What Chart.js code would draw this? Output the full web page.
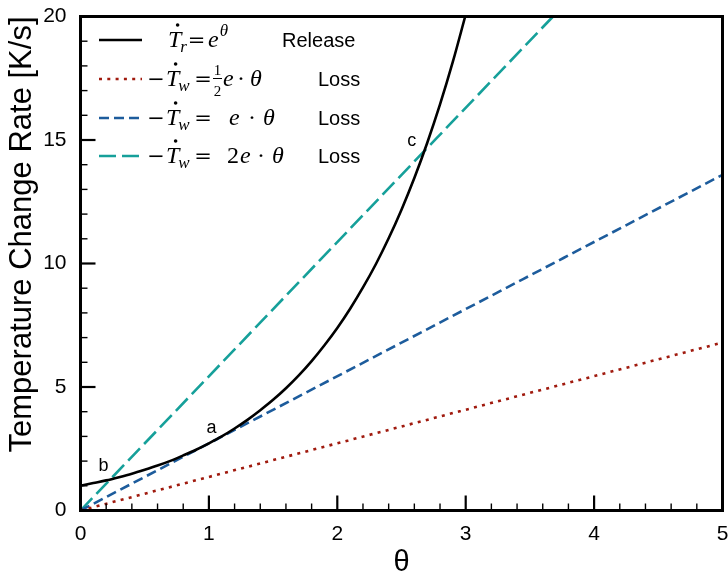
<!DOCTYPE html>
<html>
<head>
<meta charset="utf-8">
<script src="https://cdn.jsdelivr.net/npm/chart.js@4.4.1/dist/chart.umd.min.js"></script>
<style>
  html, body { margin: 0; padding: 0; background: #fff; }
  #wrap { width: 728px; height: 576px; }
</style>
</head>
<body>
<div id="wrap"><canvas id="rateChart"></canvas></div>
<script>
// ── data ────────────────────────────────────────────────────────────
// heat release curve, sampled along theta
const releaseTheta = [0, 0.1, 0.2, 0.3, 0.4, 0.5, 0.6, 0.7, 0.8, 0.9, 1.0,
                      1.1, 1.2, 1.3, 1.4, 1.5, 1.6, 1.7, 1.8, 1.9, 2.0,
                      2.1, 2.2, 2.3, 2.4, 2.5, 2.6, 2.7, 2.8, 2.9, 2.996];
const releaseRate  = [1.00, 1.11, 1.22, 1.35, 1.49, 1.65, 1.82, 2.01, 2.23, 2.46, 2.72,
                      3.00, 3.32, 3.67, 4.06, 4.48, 4.95, 5.47, 6.05, 6.69, 7.39,
                      8.17, 9.03, 9.97, 11.02, 12.18, 13.46, 14.88, 16.44, 18.17, 20.00];

// wall loss lines (straight, end points)
const lossHalfTheta = [0, 5];
const lossHalfRate  = [0, 6.80];
const lossOneTheta  = [0, 5];
const lossOneRate   = [0, 13.59];
const lossTwoTheta  = [0, 3.68];
const lossTwoRate   = [0, 20.0];

// point labels a, b, c
const markNames = ["a", "b", "c"];
const markTheta = [1.02, 0.18, 2.58];
const markRate  = [3.35, 1.82, 14.95];

const xTitle = "θ";
const yTitle = "Temperature Change Rate [K/s]";

// ── styles ──────────────────────────────────────────────────────────
const SANS  = "'Liberation Sans', Arial, sans-serif";
const SERIF = "'Liberation Serif', 'Times New Roman', serif";
const WIDE  = "'DejaVu Serif', serif";   // wide minus / equals signs

const COL_RELEASE = "#000000";
const COL_HALF    = "#a01a0e";
const COL_ONE     = "#1d5c9c";
const COL_TWO     = "#16a09a";

const toPts = (xs, ys) => xs.map((x, i) => ({ x, y: ys[i] }));
const isWhole = v => Math.abs(v - Math.round(v)) < 1e-6;

function lineSet(xs, ys, color, dash) {
  return {
    data: toPts(xs, ys),
    borderColor: color,
    borderWidth: 2.6,
    borderDash: dash,
    pointRadius: 0,
    fill: false,
    clip: 0,
  };
}

// keep the plot box fixed: no extra room for edge tick labels
function fixBox(s, key, size) {
  s[key] = size;
  s.paddingLeft = s.paddingRight = s.paddingTop = s.paddingBottom = 0;
}

// ── inward ticks, frame and point labels ───────────────────────────
const framePlugin = {
  id: "frame",
  afterDatasetsDraw(chart) {
    const { ctx, chartArea: a, scales: { x, y } } = chart;
    ctx.save();
    ctx.strokeStyle = "#000";

    x.ticks.forEach(t => {
      const px = x.getPixelForValue(t.value);
      const major = isWhole(t.value);
      ctx.lineWidth = major ? 2.2 : 1.4;
      ctx.beginPath();
      ctx.moveTo(px, a.bottom);
      ctx.lineTo(px, a.bottom - (major ? 15 : 7));
      ctx.stroke();
    });
    y.ticks.forEach(t => {
      const py = y.getPixelForValue(t.value);
      const major = t.value % 5 === 0;
      ctx.lineWidth = major ? 2.2 : 1.4;
      ctx.beginPath();
      ctx.moveTo(a.left, py);
      ctx.lineTo(a.left + (major ? 15 : 7), py);
      ctx.stroke();
    });

    ctx.lineWidth = 3;
    ctx.strokeRect(a.left, a.top, a.right - a.left, a.bottom - a.top);

    ctx.fillStyle = "#000";
    ctx.font = "18px " + SANS;
    ctx.textAlign = "center";
    ctx.textBaseline = "middle";
    markNames.forEach((n, i) => {
      ctx.fillText(n, x.getPixelForValue(markTheta[i]), y.getPixelForValue(markRate[i]));
    });
    ctx.restore();
  },
};

// ── legend with math labels ────────────────────────────────────────
const MATH_IT = "italic 24px " + SERIF;
const MATH_RM = "24px " + SERIF;
const SIGN    = "21px " + WIDE;
const SUB_IT  = "italic 17px " + SERIF;
const FRAC_RM = "15px " + SERIF;

function drawTdot(ctx, x, base) {
  ctx.font = MATH_IT;
  ctx.fillText("T", x, base);
  const w = ctx.measureText("T").width;
  ctx.beginPath();
  ctx.arc(x + w * 0.72, base - 22, 1.8, 0, Math.PI * 2);
  ctx.fill();
  return x + w;
}

function drawText(ctx, s, font, x, base) {
  ctx.font = font;
  ctx.fillText(s, x, base);
  return x + ctx.measureText(s).width;
}

function drawCentered(ctx, s, font, cx, base) {
  ctx.font = font;
  ctx.fillText(s, cx - ctx.measureText(s).width / 2, base);
}

function drawLossLhs(ctx, base) {
  drawCentered(ctx, "−", SIGN, 156, base);
  const x = drawTdot(ctx, 166, base);
  drawText(ctx, "w", SUB_IT, x - 1, base + 5);
  drawCentered(ctx, "=", SIGN, 203, base);
}

const legendRows = [
  { color: COL_RELEASE, dash: [],       word: "Release" },
  { color: COL_HALF,    dash: [3, 5.3], word: "Loss" },
  { color: COL_ONE,     dash: [10, 5],  word: "Loss" },
  { color: COL_TWO,     dash: [17, 6],  word: "Loss" },
];

const legendPlugin = {
  id: "mathLegend",
  afterDraw(chart) {
    const { ctx } = chart;
    const rowBase = [47, 86, 125, 163];
    ctx.save();
    ctx.textAlign = "left";
    ctx.textBaseline = "alphabetic";
    legendRows.forEach((r, i) => {
      const base = rowBase[i];
      ctx.strokeStyle = r.color;
      ctx.lineWidth = 2.6;
      ctx.setLineDash(r.dash);
      ctx.beginPath();
      ctx.moveTo(99, base - 7);
      ctx.lineTo(142, base - 7);
      ctx.stroke();
      ctx.setLineDash([]);
      ctx.fillStyle = "#000";

      if (i === 0) {
        const x = drawTdot(ctx, 168, base);
        drawText(ctx, "r", SUB_IT, x - 1, base + 5);
        drawCentered(ctx, "=", SIGN, 196.5, base);
        const ex = drawText(ctx, "e", MATH_IT, 208, base);
        drawText(ctx, "θ", SUB_IT, ex + 1, base - 11);
      } else {
        drawLossLhs(ctx, base);
        if (i === 1) {
          drawCentered(ctx, "1", FRAC_RM, 217.5, base - 11);
          drawCentered(ctx, "2", FRAC_RM, 217.5, base + 10);
          ctx.lineWidth = 1;
          ctx.strokeStyle = "#000";
          ctx.beginPath();
          ctx.moveTo(213, base - 7.5);
          ctx.lineTo(222, base - 7.5);
          ctx.stroke();
          drawText(ctx, "e", MATH_IT, 223, base);
          drawCentered(ctx, "·", MATH_RM, 241, base);
          drawText(ctx, "θ", MATH_IT, 250, base);
        } else if (i === 2) {
          drawText(ctx, "e", MATH_IT, 229, base);
          drawCentered(ctx, "·", MATH_RM, 252, base);
          drawText(ctx, "θ", MATH_IT, 263, base);
        } else {
          drawText(ctx, "2", MATH_RM, 227, base);
          drawText(ctx, "e", MATH_IT, 240, base);
          drawCentered(ctx, "·", MATH_RM, 261, base);
          drawText(ctx, "θ", MATH_IT, 272, base);
        }
      }
      drawText(ctx, r.word, "20px " + SANS, i === 0 ? 282 : 318, base);
    });
    ctx.restore();
  },
};

// ── chart ───────────────────────────────────────────────────────────
new Chart(document.getElementById("rateChart"), {
  type: "line",
  data: {
    datasets: [
      lineSet(releaseTheta, releaseRate, COL_RELEASE, []),
      lineSet(lossHalfTheta, lossHalfRate, COL_HALF, [3, 5.3]),
      lineSet(lossOneTheta, lossOneRate, COL_ONE, [10, 5]),
      lineSet(lossTwoTheta, lossTwoRate, COL_TWO, [17, 6]),
    ],
  },
  options: {
    responsive: true,
    maintainAspectRatio: false,
    animation: false,
    layout: { padding: { top: 16.5, right: 5.5, left: 0, bottom: 0 } },
    elements: { line: { tension: 0, cubicInterpolationMode: "monotone" } },
    plugins: { legend: { display: false }, tooltip: { enabled: false } },
    scales: {
      x: {
        type: "linear",
        min: 0,
        max: 5,
        grid: { display: false, drawTicks: false },
        border: { display: false },
        ticks: {
          stepSize: 0.2,
          autoSkip: false,
          maxRotation: 0,
          padding: 11,
          color: "#000",
          font: { family: SANS, size: 21 },
          callback: v => (isWhole(v) ? String(Math.round(v)) : ""),
        },
        title: {
          display: true,
          text: xTitle,
          color: "#000",
          font: { family: SANS, size: 29 },
          padding: { top: 0, bottom: -4 },
        },
        afterFit: s => fixBox(s, "height", 65.5),
      },
      y: {
        min: 0,
        max: 20,
        grid: { display: false, drawTicks: false },
        border: { display: false },
        ticks: {
          stepSize: 1,
          autoSkip: false,
          padding: 14,
          color: "#000",
          font: { family: SANS, size: 21 },
          callback: v => (v % 5 === 0 ? String(v) : ""),
        },
        title: {
          display: true,
          text: yTitle,
          color: "#000",
          align: "end",
          font: { family: SANS, size: 31 },
          padding: { top: 4, bottom: 0 },
        },
        afterFit: s => fixBox(s, "width", 80.5),
      },
    },
  },
  plugins: [framePlugin, legendPlugin],
});
</script>
</body>
</html>
